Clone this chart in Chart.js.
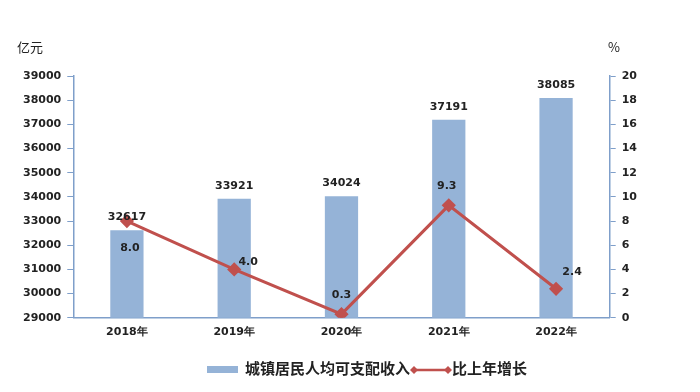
<!DOCTYPE html>
<html>
<head>
<meta charset="utf-8">
<script src="https://cdn.jsdelivr.net/npm/chart.js@4"></script>
<style>
  body { margin: 0; background: #fff; }
  #wrap { position: relative; width: 700px; height: 392px; }
  #legend { position: absolute; left: 0; top: 358px; width: 700px; height: 20px;
            font: bold 15px "Noto Sans CJK SC", sans-serif; color: #222; }
  .item { position: absolute; top: 0; line-height: 20px; white-space: nowrap; }
</style>
</head>
<body>
<div id="wrap">
  <canvas id="chart" width="700" height="392"></canvas>
  <div id="legend">
    <div class="item" style="left:207px;"><span style="display:inline-block;width:31px;height:7px;background:#95B3D7;vertical-align:middle;margin-right:7px;"></span>城镇居民人均可支配收入</div>
    <div class="item" style="left:410px;"><canvas id="lg" width="42" height="20" style="vertical-align:middle;"></canvas>比上年增长</div>
  </div>
</div>
<script>
const years = ["2018年", "2019年", "2020年", "2021年", "2022年"];
const income = [32617, 33921, 34024, 37191, 38085];
const growth = [8.0, 4.0, 0.3, 9.3, 2.4];
const growthText = ["8.0", "4.0", "0.3", "9.3", "2.4"];

const barColor = "#95B3D7";
const lineColor = "#C0504D";
const axisColor = "#7F9FCA";
const tickFont = { family: "DejaVu Sans", size: 11, weight: "bold" };

// little legend marker for the line
(function () {
    const c = document.getElementById("lg").getContext("2d");
    c.strokeStyle = lineColor;
    c.lineWidth = 2.5;
    c.beginPath(); c.moveTo(3, 10); c.lineTo(39, 10); c.stroke();
    c.fillStyle = lineColor;
    [4, 38].forEach(x => {
        c.beginPath();
        c.moveTo(x, 6); c.lineTo(x + 4, 10); c.lineTo(x, 14); c.lineTo(x - 4, 10);
        c.closePath(); c.fill();
    });
})();

// value labels
const labelPlugin = {
    id: "labels",
    afterDatasetsDraw(chart) {
        const ctx = chart.ctx;
        ctx.save();
        ctx.font = "bold 11px DejaVu Sans";
        ctx.fillStyle = "#222";
        ctx.textAlign = "center";
        ctx.textBaseline = "middle";
        chart.getDatasetMeta(0).data.forEach((bar, i) => {
            ctx.fillText(String(income[i]), bar.x, bar.y - 13);
        });
        const offs = [[3, 27], [14, -7], [0, -19], [-2, -19], [16, -17]];
        chart.getDatasetMeta(1).data.forEach((pt, i) => {
            ctx.fillText(growthText[i], pt.x + offs[i][0], pt.y + offs[i][1]);
        });
        // axis unit titles
        ctx.font = "13px Noto Sans CJK SC";
        ctx.textAlign = "left";
        ctx.fillText("亿元", 17, 47);
        ctx.fillText("%", 608, 47);
        ctx.restore();
    }
};

new Chart(document.getElementById("chart"), {
    data: {
        labels: years,
        datasets: [
            {
                type: "bar",
                label: "城镇居民人均可支配收入",
                data: income,
                backgroundColor: barColor,
                yAxisID: "y",
                barPercentage: 0.31,
                categoryPercentage: 1,
                order: 2
            },
            {
                type: "line",
                label: "比上年增长",
                data: growth,
                borderColor: lineColor,
                backgroundColor: lineColor,
                borderWidth: 3,
                pointStyle: "rectRot",
                pointRadius: 5,
                yAxisID: "y1",
                order: 1
            }
        ]
    },
    options: {
        responsive: false,
        animation: false,
        layout: { padding: { top: 76, left: 17, right: 57, bottom: 45 } },
        plugins: { legend: { display: false }, tooltip: { enabled: false } },
        scales: {
            x: {
                grid: { display: false, drawTicks: false },
                border: { color: axisColor, width: 1.5 },
                ticks: { font: tickFont, color: "#222", padding: 8 }
            },
            y: {
                position: "left",
                min: 29000, max: 39000,
                ticks: { stepSize: 1000, font: tickFont, color: "#222", padding: 6,
                         callback: v => String(v) },
                grid: { drawOnChartArea: false, color: axisColor, tickLength: 6 },
                border: { color: axisColor, width: 1.5 }
            },
            y1: {
                position: "right",
                min: 0, max: 20,
                ticks: { stepSize: 2, font: tickFont, color: "#222", padding: 6 },
                grid: { drawOnChartArea: false, color: axisColor, tickLength: 6 },
                border: { color: axisColor, width: 1.5 }
            }
        }
    },
    plugins: [labelPlugin]
});
</script>
</body>
</html>
